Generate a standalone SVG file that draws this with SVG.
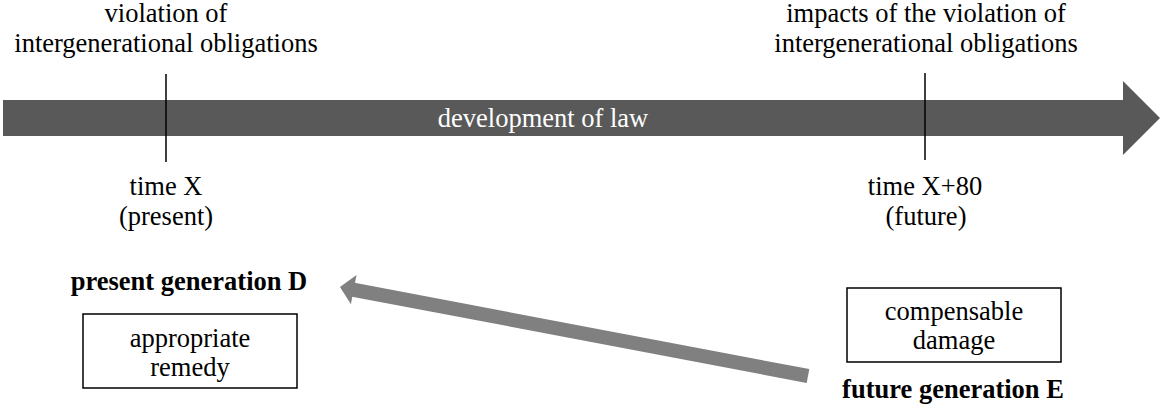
<svg xmlns="http://www.w3.org/2000/svg" width="1160" height="405" viewBox="0 0 1160 405">
<style>
text{font-family:"Liberation Serif","Times New Roman",serif;font-size:26.5px;fill:#000;text-anchor:middle}
.b{font-weight:bold}
.w{fill:#fff}
.box{fill:#fff;stroke:#000;stroke-width:1.5}
.tick{stroke:#000;stroke-width:1.5}
</style>
<rect width="1160" height="405" fill="#fff"/>
<g id="timeline">
<polygon points="3,100 1123,100 1123,81 1160,118 1123,155 1123,136 3,136" fill="#595959"/>
<text class="w" x="543" y="127">development of law</text>
</g>
<g id="timeX">
<line class="tick" x1="166" y1="74" x2="166" y2="162"/>
<text x="166" y="22">violation of</text>
<text x="166" y="52">intergenerational obligations</text>
<text x="166" y="195">time X</text>
<text x="166" y="225">(present)</text>
</g>
<g id="timeX80">
<line class="tick" x1="925" y1="73" x2="925" y2="160"/>
<text x="926" y="22">impacts of the violation of</text>
<text x="926" y="52">intergenerational obligations</text>
<text x="925" y="195">time X+80</text>
<text x="926" y="225">(future)</text>
</g>
<g id="presentD">
<text class="b" x="189" y="290">present generation D</text>
<rect class="box" x="83" y="314" width="214" height="74"/>
<text x="190" y="347">appropriate</text>
<text x="190" y="376">remedy</text>
</g>
<g id="futureE">
<rect class="box" x="847" y="288" width="214" height="74"/>
<text x="954" y="320">compensable</text>
<text x="954" y="349">damage</text>
<text class="b" x="953" y="398">future generation E</text>
</g>
<g id="connectors">
<line x1="808" y1="376" x2="352" y2="289.5" stroke="#808080" stroke-width="14"/>
<polygon points="340,287 356.5,274.9 350.9,304.3" fill="#808080"/>
</g>
</svg>
